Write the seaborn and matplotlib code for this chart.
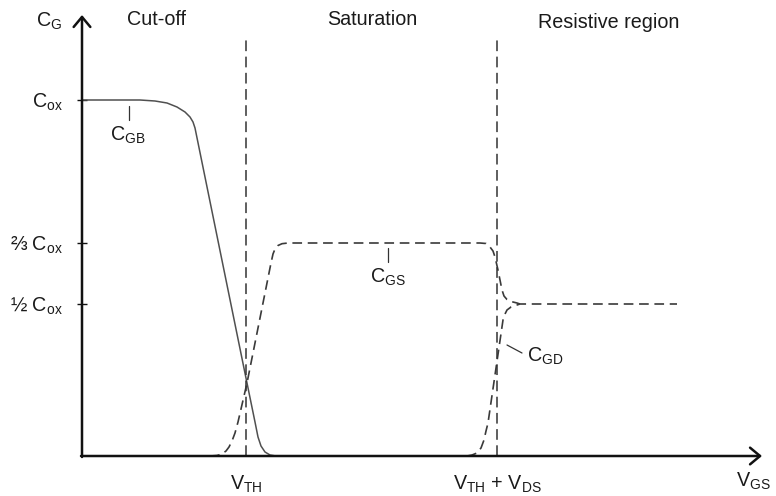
import matplotlib
matplotlib.use("Agg")
import matplotlib.pyplot as plt
import seaborn as sns
import pandas as pd

# ---- data (schematic units: x = V_GS, y = C_G) ----
cgb_x = [0, 58, 73, 85, 95, 103, 108, 111, 113, 165, 173, 176, 179, 183, 188, 194, 203]
cgb_y = [356, 356, 355, 353, 349, 344, 339, 334, 328, 73, 34, 19, 10, 4, 1, 0, 0]

cgs_x = [128, 135, 140, 144, 147, 150, 153, 156, 165, 189, 191, 193, 196, 200, 206, 218,
         398, 404, 408, 411, 413, 416, 418, 420, 422, 425, 429, 435, 438]
cgs_y = [0, 0.5, 2, 5, 9, 15, 23, 34, 73, 193, 202, 207, 210.5, 212.3, 213, 213,
         213, 212.5, 209, 205, 199, 186, 176, 166, 160, 156.5, 154.5, 153, 152]

cgd_x = [385, 390, 395, 399, 402, 404, 406, 421, 423, 425, 429, 435, 438, 595]
cgd_y = [0, 1, 3, 8, 16, 25, 33, 136, 142, 146, 149, 151, 152, 152]

vline_x = [164, 415]          # V_TH, V_TH + V_DS
vline_top = 416
x_max, y_max = 680, 441

y_ticks = [356, 213, 152]
y_labels = [r"$\mathregular{C_{ox}}$", r"⅔ $\mathregular{C_{ox}}$", r"½ $\mathregular{C_{ox}}$"]
x_ticks = [164, 415]
x_labels = [r"$\mathregular{V_{TH}}$", r"$\mathregular{V_{TH}}$ + $\mathregular{V_{DS}}$"]

regions = ["Cut-off", "Saturation", "Resistive region"]
region_x = [75, 290, 527]
region_y = [431, 431, 428]

# ---- style ----
sns.set_theme(style="white")
plt.rcParams["font.family"] = ["Liberation Sans", "DejaVu Sans"]
plt.rcParams["mathtext.fontset"] = "custom"
plt.rcParams["mathtext.rm"] = "Liberation Sans"
plt.rcParams["mathtext.it"] = "Liberation Sans"
txt = "#1a1a1a"
FS = 14.2

fig = plt.figure(figsize=(7.76, 4.96), dpi=100)
ax = fig.add_axes([82 / 776, 40 / 496, x_max / 776, y_max / 496])
ax.set_xlim(0, x_max)
ax.set_ylim(0, y_max)
for s in ax.spines.values():
    s.set_visible(False)

df_gb = pd.DataFrame({"x": cgb_x, "y": cgb_y})
df_gs = pd.DataFrame({"x": cgs_x, "y": cgs_y})
df_gd = pd.DataFrame({"x": cgd_x, "y": cgd_y})

sns.lineplot(data=df_gb, x="x", y="y", sort=False, estimator=None, ax=ax,
             color="#505050", linewidth=1.1, clip_on=False)
dash_curve = (0, (5.8, 3.4))
sns.lineplot(data=df_gs, x="x", y="y", sort=False, estimator=None, ax=ax,
             color="#3a3a3a", linewidth=1.2, linestyle=dash_curve, clip_on=False)
sns.lineplot(data=df_gd, x="x", y="y", sort=False, estimator=None, ax=ax,
             color="#3a3a3a", linewidth=1.2, linestyle=dash_curve, clip_on=False)

for vx in vline_x:
    ax.vlines(vx, 0, vline_top, colors="#333333", linewidth=1.1,
              linestyles=[(0, (7.0, 3.6))])

# axes with arrows
arrow = dict(arrowstyle="->,head_length=0.6,head_width=0.5", lw=1.8, color="#111111",
             shrinkA=0, shrinkB=0)
ax.annotate("", xy=(x_max, 0), xytext=(-1, 0), arrowprops=arrow, annotation_clip=False)
ax.annotate("", xy=(0, y_max), xytext=(0, -1), arrowprops=arrow, annotation_clip=False)

ax.set_yticks(y_ticks, y_labels)
ax.set_xticks(x_ticks, x_labels)
ax.tick_params(axis="y", direction="inout", length=7.2, width=1.0, color="#111111",
               pad=10, labelsize=FS, labelcolor=txt, left=True)
ax.tick_params(axis="x", length=0, pad=13, labelsize=FS, labelcolor=txt)
ax.set_xlabel("")
ax.set_ylabel("")

# axis names
ax.text(-46, 429, r"$\mathregular{C_{G}}$", fontsize=FS, color=txt, ha="left", va="baseline")
ax.text(689, -15, r"$\mathregular{V_{GS}}$", fontsize=FS, color=txt, ha="right", va="top")

for name, rx, ry in zip(regions, region_x, region_y):
    ax.text(rx, ry, name, fontsize=FS, color=txt, ha="center", va="baseline")

# curve labels with leaders
ax.text(46, 315, r"$\mathregular{C_{GB}}$", fontsize=FS, color=txt, ha="center", va="baseline")
ax.plot([47, 47], [350, 336], color="#333333", lw=0.9)
ax.text(306, 173, r"$\mathregular{C_{GS}}$", fontsize=FS, color=txt, ha="center", va="baseline")
ax.plot([306, 306], [208, 194], color="#333333", lw=0.9)
ax.text(445, 94, r"$\mathregular{C_{GD}}$", fontsize=FS, color=txt, ha="left", va="baseline")
ax.plot([425, 440], [111, 103], color="#333333", lw=0.9)

fig.savefig("out.png", dpi=100)
